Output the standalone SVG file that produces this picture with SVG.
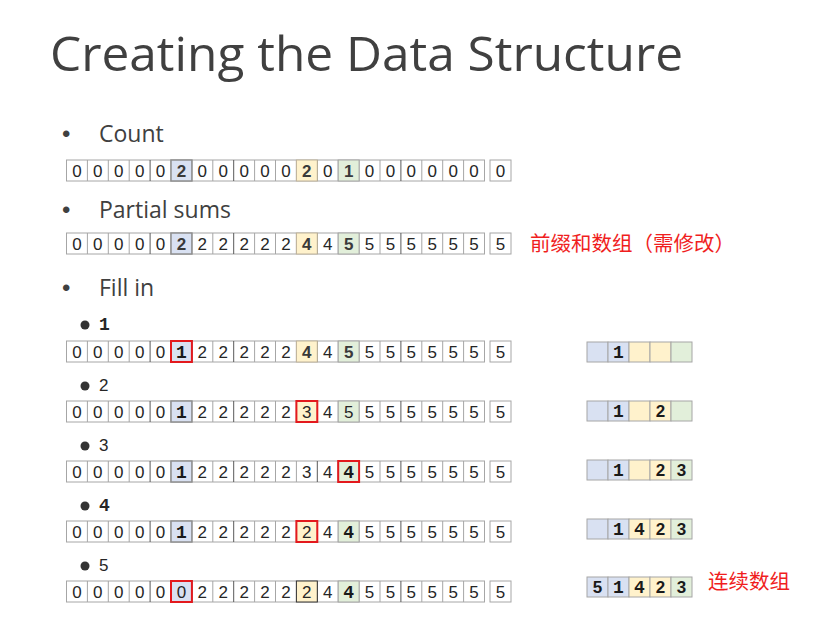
<svg xmlns="http://www.w3.org/2000/svg" xmlns:xlink="http://www.w3.org/1999/xlink" width="821" height="623" viewBox="0 0 821 623">
  <style>
    .title { font-family: "Open Sans", "Liberation Sans", sans-serif; font-size: 47px; fill: #404040; }
    .head { font-family: "Open Sans", "Liberation Sans", sans-serif; font-size: 23px; fill: #404040; }
    .dotb { font-family: "Liberation Sans", Arial, sans-serif; font-size: 24px; fill: #404040; }
    .num { font-family: "Liberation Sans", Arial, sans-serif; font-size: 17px; fill: #262626; text-anchor: middle; }
    .hi { font-weight: bold; fill: #3a3a3a; }
    .mono { font-family: "Liberation Mono", "Courier New", monospace; font-weight: bold; font-size: 18px; fill: #1a1a1a; text-anchor: middle; }
    .bold { font-family: "Liberation Sans", Arial, sans-serif; font-weight: bold; font-size: 17px; fill: #1a1a1a; text-anchor: middle; }
    .lab { font-family: "Liberation Sans", Arial, sans-serif; font-size: 17px; fill: #262626; }
    .labm { font-family: "Liberation Mono", "Courier New", monospace; font-weight: bold; font-size: 18px; fill: #262626; }
    .note { font-family: "Noto Sans CJK SC", "Noto Sans", sans-serif; font-size: 20.5px; fill: #F01E1E; }
    .cell { fill: #fff; stroke: #A6A6A6; stroke-width: 1; }
    .thin { stroke: #A6A6A6; stroke-width: 1; fill: none; }
    .thick { stroke: #595959; stroke-width: 1; fill: none; }
    .blue { fill: #D9E1F2; stroke: #8E8E8E; stroke-width: 1.5; }
    .yel { fill: #FFF2CC; stroke: #BFB39A; stroke-width: 1; }
    .grn { fill: #E2EFDA; stroke: #A6A6A6; stroke-width: 1; }
    .red { fill: none; stroke: #E3191D; stroke-width: 2; }
    .sb { fill: #D9E1F2; stroke: #A6A6A6; }
    .sy { fill: #FFF2CC; stroke: #A6A6A6; }
    .sg { fill: #E2EFDA; stroke: #A6A6A6; }
    .dot { fill: #333; }
  </style>
  <defs>
    <!-- one 20-cell strip plus the detached last cell -->
    <g id="strip">
      <rect class="cell" x="66.5" y="0" width="418" height="21"/>
      <path class="thin" d="M87.4 0V21M108.3 0V21M129.2 0V21M171 0V21M191.9 0V21M212.8 0V21M254.6 0V21M275.5 0V21M296.4 0V21M338.2 0V21M359.1 0V21M380 0V21M421.8 0V21M442.7 0V21M463.6 0V21"/>
      <path class="thick" d="M150.1 0V21M233.7 0V21M317.3 0V21M400.9 0V21"/>
      <rect class="cell" x="490" y="0" width="21" height="21"/>
    </g>
  </defs>

  <rect width="821" height="623" fill="#fff"/>

  <text class="title" x="50" y="71" textLength="633" lengthAdjust="spacingAndGlyphs">Creating the Data Structure</text>

  <g id="count">
    <text class="dotb" x="62" y="142">•</text>
    <text class="head" x="99" y="142">Count</text>
    <use xlink:href="#strip" y="160"/>
    <rect class="blue" x="171" y="160" width="20.9" height="21"/>
    <rect class="yel" x="296.4" y="160" width="20.9" height="21"/>
    <rect class="grn" x="338.2" y="160" width="20.9" height="21"/>
    <text class="num" y="176.8" x="76.95 97.85 118.75 139.65 160.55">00000</text>
    <text class="num hi" x="181.45" y="176.8">2</text>
    <text class="num" y="176.8" x="202.35 223.25 244.15 265.05 285.95">00000</text>
    <text class="num hi" x="306.85" y="176.8">2</text>
    <text class="num" x="327.75" y="176.8">0</text>
    <text class="num hi" x="348.65" y="176.8">1</text>
    <text class="num" y="176.8" x="369.55 390.45 411.35 432.25 453.15 474.05 500.5">0000000</text>
  </g>

  <g id="partial-sums">
    <text class="dotb" x="62" y="218">•</text>
    <text class="head" x="99" y="218">Partial sums</text>
    <use xlink:href="#strip" y="233"/>
    <rect class="blue" x="171" y="233" width="20.9" height="21"/>
    <rect class="yel" x="296.4" y="233" width="20.9" height="21"/>
    <rect class="grn" x="338.2" y="233" width="20.9" height="21"/>
    <text class="num" y="249.8" x="76.95 97.85 118.75 139.65 160.55">00000</text>
    <text class="num hi" x="181.45" y="249.8">2</text>
    <text class="num" y="249.8" x="202.35 223.25 244.15 265.05 285.95">22222</text>
    <text class="num hi" x="306.85" y="249.8">4</text>
    <text class="num" x="327.75" y="249.8">4</text>
    <text class="num hi" x="348.65" y="249.8">5</text>
    <text class="num" y="249.8" x="369.55 390.45 411.35 432.25 453.15 474.05 500.5">5555555</text>
    <text class="note" x="530" y="251">前缀和数组（需修改）</text>
  </g>

  <g id="fill-in">
    <text class="dotb" x="62" y="296">•</text>
    <text class="head" x="99" y="296">Fill in</text>
  </g>

  <!-- step 1 -->
  <g id="step1">
    <circle class="dot" cx="85" cy="325" r="4.5"/>
    <text class="labm" x="99" y="330">1</text>
    <use xlink:href="#strip" y="341"/>
    <rect class="blue" x="171" y="341" width="20.9" height="21"/>
    <rect class="yel" x="296.4" y="341" width="20.9" height="21"/>
    <rect class="grn" x="338.2" y="341" width="20.9" height="21"/>
    <rect class="red" x="171" y="341" width="20.9" height="21"/>
    <text class="num" y="357.8" x="76.95 97.85 118.75 139.65 160.55">00000</text>
    <text class="mono" x="181.45" y="357.5">1</text>
    <text class="num" y="357.8" x="202.35 223.25 244.15 265.05 285.95">22222</text>
    <text class="num hi" x="306.85" y="357.8">4</text>
    <text class="num" x="327.75" y="357.8">4</text>
    <text class="num hi" x="348.65" y="357.8">5</text>
    <text class="num" y="357.8" x="369.55 390.45 411.35 432.25 453.15 474.05 500.5">5555555</text>
  </g>
  <g id="out1">
    <rect class="sb" x="587" y="342" width="21" height="20"/>
    <rect class="sb" x="608" y="342" width="21" height="20"/>
    <rect class="sy" x="629" y="342" width="21" height="20"/>
    <rect class="sy" x="650" y="342" width="21" height="20"/>
    <rect class="sg" x="671" y="342" width="21" height="20"/>
    <text class="mono" x="618.5" y="357.5">1</text>
  </g>

  <!-- step 2 -->
  <g id="step2">
    <circle class="dot" cx="85" cy="386" r="4.5"/>
    <text class="lab" x="99" y="391">2</text>
    <use xlink:href="#strip" y="401"/>
    <rect class="blue" x="171" y="401" width="20.9" height="21"/>
    <rect class="yel" x="296.4" y="401" width="20.9" height="21"/>
    <rect class="grn" x="338.2" y="401" width="20.9" height="21"/>
    <rect class="red" x="296.4" y="401" width="20.9" height="21"/>
    <text class="num" y="417.8" x="76.95 97.85 118.75 139.65 160.55">00000</text>
    <text class="mono" x="181.45" y="417.5">1</text>
    <text class="num" y="417.8" x="202.35 223.25 244.15 265.05 285.95 306.85 327.75 348.65 369.55 390.45 411.35 432.25 453.15 474.05 500.5">222223455555555</text>
  </g>
  <g id="out2">
    <rect class="sb" x="587" y="401" width="21" height="20"/>
    <rect class="sb" x="608" y="401" width="21" height="20"/>
    <rect class="sy" x="629" y="401" width="21" height="20"/>
    <rect class="sy" x="650" y="401" width="21" height="20"/>
    <rect class="sg" x="671" y="401" width="21" height="20"/>
    <text class="mono" x="618.5" y="416.5">1</text>
    <text class="bold" x="660.5" y="416.8">2</text>
  </g>

  <!-- step 3 -->
  <g id="step3">
    <circle class="dot" cx="85" cy="446" r="4.5"/>
    <text class="lab" x="99" y="451">3</text>
    <use xlink:href="#strip" y="461"/>
    <rect class="blue" x="171" y="461" width="20.9" height="21"/>
    <rect class="grn" x="338.2" y="461" width="20.9" height="21"/>
    <rect class="red" x="338.2" y="461" width="20.9" height="21"/>
    <text class="num" y="477.8" x="76.95 97.85 118.75 139.65 160.55">00000</text>
    <text class="mono" x="181.45" y="477.5">1</text>
    <text class="num" y="477.8" x="202.35 223.25 244.15 265.05 285.95 306.85 327.75">2222234</text>
    <text class="mono" x="348.65" y="477.5">4</text>
    <text class="num" y="477.8" x="369.55 390.45 411.35 432.25 453.15 474.05 500.5">5555555</text>
  </g>
  <g id="out3">
    <rect class="sb" x="587" y="460" width="21" height="20"/>
    <rect class="sb" x="608" y="460" width="21" height="20"/>
    <rect class="sy" x="629" y="460" width="21" height="20"/>
    <rect class="sy" x="650" y="460" width="21" height="20"/>
    <rect class="sg" x="671" y="460" width="21" height="20"/>
    <text class="mono" x="618.5" y="475.5">1</text>
    <text class="bold" x="660.5" y="475.8">2</text>
    <text class="bold" x="681.5" y="475.8">3</text>
  </g>

  <!-- step 4 -->
  <g id="step4">
    <circle class="dot" cx="85" cy="506" r="4.5"/>
    <text class="labm" x="99" y="511">4</text>
    <use xlink:href="#strip" y="521"/>
    <rect class="blue" x="171" y="521" width="20.9" height="21"/>
    <rect class="yel" x="296.4" y="521" width="20.9" height="21"/>
    <rect class="grn" x="338.2" y="521" width="20.9" height="21"/>
    <rect class="red" x="296.4" y="521" width="20.9" height="21"/>
    <text class="num" y="537.8" x="76.95 97.85 118.75 139.65 160.55">00000</text>
    <text class="mono" x="181.45" y="537.5">1</text>
    <text class="num" y="537.8" x="202.35 223.25 244.15 265.05 285.95 306.85 327.75">2222224</text>
    <text class="mono" x="348.65" y="537.5">4</text>
    <text class="num" y="537.8" x="369.55 390.45 411.35 432.25 453.15 474.05 500.5">5555555</text>
  </g>
  <g id="out4">
    <rect class="sb" x="587" y="519" width="21" height="20"/>
    <rect class="sb" x="608" y="519" width="21" height="20"/>
    <rect class="sy" x="629" y="519" width="21" height="20"/>
    <rect class="sy" x="650" y="519" width="21" height="20"/>
    <rect class="sg" x="671" y="519" width="21" height="20"/>
    <text class="mono" x="618.5" y="534.5">1</text>
    <text class="mono" x="639.5" y="534.5">4</text>
    <text class="bold" x="660.5" y="534.8">2</text>
    <text class="bold" x="681.5" y="534.8">3</text>
  </g>

  <!-- step 5 -->
  <g id="step5">
    <circle class="dot" cx="85" cy="566" r="4.5"/>
    <text class="lab" x="99" y="571">5</text>
    <use xlink:href="#strip" y="581"/>
    <rect class="blue" x="171" y="581" width="20.9" height="21"/>
    <rect class="yel" x="296.4" y="581" width="20.9" height="21" style="stroke:#333"/>
    <rect class="grn" x="338.2" y="581" width="20.9" height="21"/>
    <rect class="red" x="171" y="581" width="20.9" height="21"/>
    <text class="num" y="597.8" x="76.95 97.85 118.75 139.65 160.55 181.45 202.35 223.25 244.15 265.05 285.95 306.85 327.75">0000002222224</text>
    <text class="mono" x="348.65" y="597.5">4</text>
    <text class="num" y="597.8" x="369.55 390.45 411.35 432.25 453.15 474.05 500.5">5555555</text>
  </g>
  <g id="out5">
    <rect class="sb" x="587" y="577" width="21" height="20"/>
    <rect class="sb" x="608" y="577" width="21" height="20"/>
    <rect class="sy" x="629" y="577" width="21" height="20"/>
    <rect class="sy" x="650" y="577" width="21" height="20"/>
    <rect class="sg" x="671" y="577" width="21" height="20"/>
    <text class="bold" x="597.5" y="592.8">5</text>
    <text class="mono" x="618.5" y="592.5">1</text>
    <text class="mono" x="639.5" y="592.5">4</text>
    <text class="bold" x="660.5" y="592.8">2</text>
    <text class="bold" x="681.5" y="592.8">3</text>
    <text class="note" x="708" y="589">连续数组</text>
  </g>
</svg>
